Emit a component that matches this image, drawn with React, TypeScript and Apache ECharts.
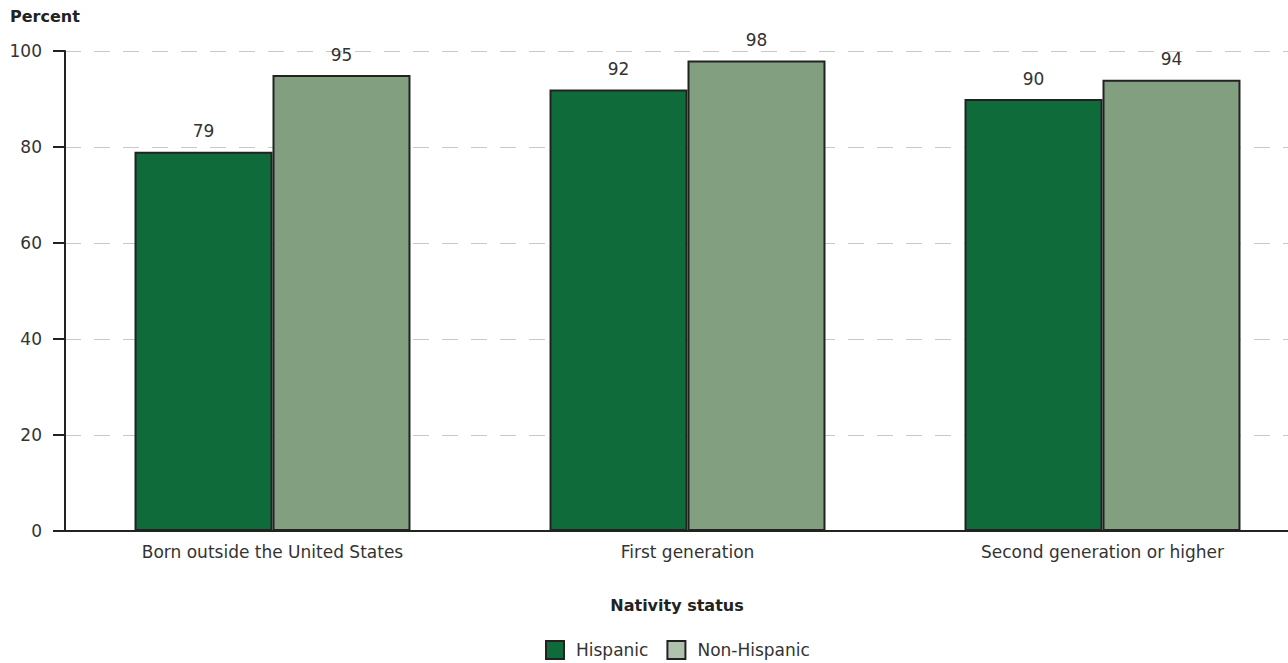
import React, { useEffect, useRef } from "react";
import * as echarts from "echarts";

const categories = ["Born outside the United States", "First generation", "Second generation or higher"];
const hispanic = [79, 92, 90];
const nonHispanic = [95, 98, 94];
const yTicks = [0, 20, 40, 60, 80, 100];

const FONT = "'DejaVu Sans', sans-serif";

export default function App() {
  const ref = useRef<HTMLDivElement>(null);
  useEffect(() => {
    const chart = echarts.init(ref.current!, null, { renderer: "svg" });
    const labelCfg = {
      show: true,
      position: "top",
      distance: 12,
      color: "#333",
      fontSize: 17,
      fontFamily: FONT,
    };
    chart.setOption({
      animation: false,
      textStyle: { fontFamily: FONT },
      grid: { left: 65, right: 0, top: 51, bottom: 132, containLabel: false },
      xAxis: {
        type: "category",
        data: categories,
        axisLine: { lineStyle: { color: "#222", width: 2 } },
        axisTick: { show: false },
        axisLabel: { color: "#333", fontSize: 17, margin: 12, fontFamily: FONT },
      },
      yAxis: {
        type: "value",
        min: yTicks[0],
        max: yTicks[yTicks.length - 1],
        interval: 20,
        axisLine: { show: true, lineStyle: { color: "#222", width: 2 } },
        axisTick: { show: true, length: 12, lineStyle: { color: "#222", width: 2 } },
        axisLabel: { color: "#333", fontSize: 17, margin: 23, fontFamily: FONT },
        splitLine: { lineStyle: { color: "#c8c8c8", type: [16, 13], width: 1 } },
      },
      legend: {
        left: 540,
        top: 635,
        itemWidth: 18,
        itemHeight: 18,
        itemGap: 18,
        textStyle: { color: "#333", fontSize: 17, fontFamily: FONT, padding: [0, 0, 0, 7] },
        data: [
          { name: "Hispanic", icon: "rect", itemStyle: { color: "#106b3a", borderColor: "#222", borderWidth: 2 } },
          { name: "Non-Hispanic", icon: "rect", itemStyle: { color: "#b0c2ad", borderColor: "#222", borderWidth: 2 } },
        ],
      },
      graphic: [
        {
          type: "text",
          left: 10,
          top: 8,
          style: { text: "Percent", fontSize: 16, fontWeight: "bold", fill: "#222", fontFamily: FONT },
        },
        {
          type: "text",
          x: 677,
          y: 605,
          style: {
            text: "Nativity status",
            fontSize: 16,
            fontWeight: "bold",
            fill: "#222",
            fontFamily: FONT,
            align: "center",
            verticalAlign: "middle",
          },
        },
      ],
      series: [
        {
          name: "Hispanic",
          type: "bar",
          data: hispanic,
          barGap: "0%",
          barCategoryGap: "33.5%",
          itemStyle: { color: "#106b3a", borderColor: "#222", borderWidth: 2 },
          label: labelCfg,
        },
        {
          name: "Non-Hispanic",
          type: "bar",
          data: nonHispanic,
          barGap: "0%",
          barCategoryGap: "33.5%",
          itemStyle: { color: "#829f80", borderColor: "#222", borderWidth: 2 },
          label: labelCfg,
        },
      ],
    });
    return () => chart.dispose();
  }, []);
  return (
    <div style={{ position: "absolute", left: 0, top: 0, width: 1288, height: 663, overflow: "hidden" }}>
      <div ref={ref} style={{ position: "absolute", left: 0, top: 0, width: 1310, height: 663 }} />
    </div>
  );
}
